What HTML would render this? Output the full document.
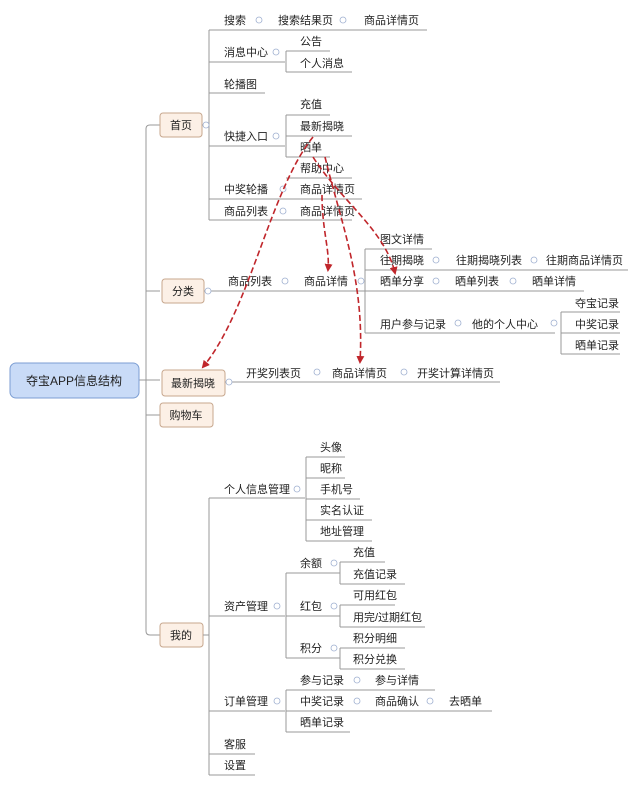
<!DOCTYPE html>
<html><head><meta charset="utf-8"><style>
html,body{margin:0;padding:0;background:#fff;}
svg{display:block;}
text{font-family:"Liberation Sans","Noto Sans CJK SC",sans-serif;font-size:11px;fill:#222;}
.l{stroke:#999;stroke-width:1;fill:none;}
.b{fill:#fcf0e6;stroke:#c7a78e;stroke-width:1;}
.c{fill:#fff;stroke:#9fb0d0;stroke-width:0.8;}
.a{stroke:#c0262b;stroke-width:1.6;fill:none;stroke-dasharray:6,3;}
</style></head><body>
<svg width="640" height="785" viewBox="0 0 640 785" xmlns="http://www.w3.org/2000/svg">
<defs><marker id="ar" markerWidth="8" markerHeight="8" refX="6" refY="4" orient="auto" markerUnits="userSpaceOnUse"><path d="M0,0 L8,4 L0,8 z" fill="#c0262b"/></marker></defs>
<!-- trunk -->
<path class="l" d="M160,125 H150 Q146,125 146,129 V631 Q146,635 150,635 H160"/>
<path class="l" d="M139,380 H160 M146,291 H160 M146,415 H160"/>
<!-- main box -->
<rect x="10" y="363" width="129" height="35" rx="6" fill="#c9dbf7" stroke="#7c9ed3"/>
<text x="74" y="385" text-anchor="middle" style="font-size:12px">夺宝APP信息结构</text>
<!-- branch boxes -->
<rect class="b" x="160" y="113" width="42" height="24" rx="3"/><text x="181" y="129" text-anchor="middle">首页</text>
<rect class="b" x="162" y="279" width="42" height="24" rx="3"/><text x="183" y="295" text-anchor="middle">分类</text>
<rect class="b" x="162" y="370" width="63" height="26" rx="3"/><text x="193" y="387" text-anchor="middle">最新揭晓</text>
<rect class="b" x="160" y="403" width="53" height="24" rx="3"/><text x="186" y="419" text-anchor="middle">购物车</text>
<rect class="b" x="160" y="623" width="43" height="24" rx="3"/><text x="181" y="639" text-anchor="middle">我的</text>
<!-- home -->
<path class="l" d="M202,125 H209 M209,30 V220 M209,30 H427 M209,62 H285 M286,51 V72 M286,51 H330 M286,72 H352 M209,93 H265 M209,146 H285 M286,115 V157 M286,115 H330 M286,136 H352 M286,157 H330 M286,178 H352 M209,199 H362 M209,220 H352"/>
<text x="224" y="24">搜索</text><text x="278" y="24">搜索结果页</text><text x="364" y="24">商品详情页</text>
<text x="224" y="56">消息中心</text><text x="300" y="45">公告</text><text x="300" y="67">个人消息</text>
<text x="224" y="88">轮播图</text>
<text x="224" y="140">快捷入口</text><text x="300" y="108">充值</text><text x="300" y="130">最新揭晓</text><text x="300" y="151">晒单</text><text x="300" y="172">帮助中心</text>
<text x="224" y="193">中奖轮播</text><text x="300" y="193">商品详情页</text>
<text x="224" y="215">商品列表</text><text x="300" y="215">商品详情页</text>
<!-- category -->
<path class="l" d="M204,291 H584 M365,249 V333 M365,249 H432 M365,270 H628 M365,333 H555 M561,312 V354 M561,312 H620 M561,333 H620 M561,354 H620"/>
<text x="380" y="243">图文详情</text>
<text x="380" y="264">往期揭晓</text><text x="456" y="264">往期揭晓列表</text><text x="546" y="264">往期商品详情页</text>
<text x="228" y="285">商品列表</text><text x="304" y="285">商品详情</text><text x="380" y="285">晒单分享</text><text x="455" y="285">晒单列表</text><text x="532" y="285">晒单详情</text>
<text x="380" y="328">用户参与记录</text><text x="472" y="328">他的个人中心</text>
<text x="575" y="307">夺宝记录</text><text x="575" y="328">中奖记录</text><text x="575" y="349">晒单记录</text>
<!-- latest -->
<path class="l" d="M225,382 H500"/>
<text x="246" y="377">开奖列表页</text><text x="332" y="377">商品详情页</text><text x="417" y="377">开奖计算详情页</text>
<!-- mine -->
<path class="l" d="M203,635 H209 M209,498 V775 M209,498 H305 M306,457 V541 M306,457 H345 M306,478 H345 M306,499 H360 M306,520 H372 M306,541 H372 M209,616 H285 M286,573 V658 M286,573 H340 M340,562 V584 M340,562 H385 M340,584 H405 M286,616 H340 M340,605 V627 M340,605 H395 M340,627 H425 M286,658 H340 M340,648 V669 M340,648 H405 M340,669 H405 M209,711 H285 M286,690 V732 M286,690 H435 M286,711 H492 M286,732 H350 M209,754 H255 M209,775 H255"/>
<text x="320" y="451">头像</text><text x="320" y="472">昵称</text><text x="320" y="493">手机号</text><text x="320" y="514">实名认证</text><text x="320" y="535">地址管理</text>
<text x="224" y="493">个人信息管理</text>
<text x="224" y="610">资产管理</text>
<text x="300" y="567">余额</text><text x="353" y="556">充值</text><text x="353" y="578">充值记录</text>
<text x="300" y="610">红包</text><text x="353" y="599">可用红包</text><text x="353" y="621">用完/过期红包</text>
<text x="300" y="652">积分</text><text x="353" y="642">积分明细</text><text x="353" y="663">积分兑换</text>
<text x="224" y="705">订单管理</text>
<text x="300" y="684">参与记录</text><text x="375" y="684">参与详情</text>
<text x="300" y="705">中奖记录</text><text x="375" y="705">商品确认</text><text x="449" y="705">去晒单</text>
<text x="300" y="726">晒单记录</text>
<text x="224" y="748">客服</text><text x="224" y="769">设置</text>
<!-- collapse circles -->
<g class="c">
<circle cx="206" cy="125" r="3"/><circle cx="208" cy="291" r="3"/><circle cx="229" cy="382" r="3"/>
<circle cx="259" cy="20" r="3"/><circle cx="343" cy="20" r="3"/><circle cx="276" cy="52" r="3"/><circle cx="276" cy="136" r="3"/>
<circle cx="283" cy="189" r="3"/><circle cx="283" cy="211" r="3"/>
<circle cx="285" cy="281" r="3"/><circle cx="361" cy="281" r="3"/><circle cx="436" cy="281" r="3"/><circle cx="513" cy="281" r="3"/>
<circle cx="436" cy="260" r="3"/><circle cx="534" cy="260" r="3"/><circle cx="458" cy="323" r="3"/><circle cx="554" cy="323" r="3"/>
<circle cx="317" cy="372" r="3"/><circle cx="404" cy="372" r="3"/>
<circle cx="297" cy="489" r="3"/><circle cx="277" cy="606" r="3"/><circle cx="334" cy="563" r="3"/><circle cx="334" cy="606" r="3"/><circle cx="334" cy="648" r="3"/>
<circle cx="277" cy="701" r="3"/><circle cx="357" cy="680" r="3"/><circle cx="357" cy="701" r="3"/><circle cx="430" cy="701" r="3"/>
</g>
<!-- red dashed arrows -->
<path class="a" marker-end="url(#ar)" d="M313,137 C270,190 250,310 203,367"/>
<path class="a" marker-end="url(#ar)" d="M322,195 C322,230 330,250 328,270"/>
<path class="a" marker-end="url(#ar)" d="M325,157 C340,220 365,280 360,362"/>
<path class="a" marker-end="url(#ar)" d="M313,157 C340,200 385,230 395,273"/>
</svg>
</body></html>
